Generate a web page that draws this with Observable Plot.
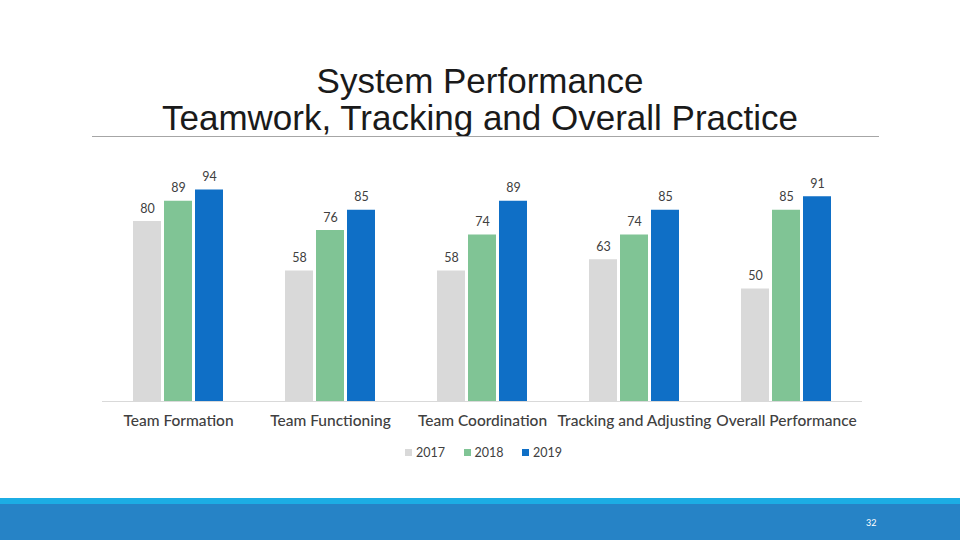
<!DOCTYPE html>
<html>
<head>
<meta charset="utf-8">
<script src="https://cdn.jsdelivr.net/npm/d3@7"></script>
<script src="https://cdn.jsdelivr.net/npm/@observablehq/plot@0.6"></script>
<style>
  html, body { margin: 0; padding: 0; background: #fff; }
  #page { position: relative; width: 960px; height: 540px; overflow: hidden; background: #fff; }
  #title { position: absolute; left: 0; top: 62px; width: 960px; text-align: center;
    font-family: "Liberation Sans", Arial, sans-serif; font-size: 35px; line-height: 37px; color: #1a1a1a; }
  #hr { position: absolute; left: 92px; top: 136px; width: 787px; height: 1px; background: #a6a6a6; }
  #chart { position: absolute; left: 0; top: 150px; }
  #legend { position: absolute; left: 405px; top: 445px; display: flex; gap: 0; font-family: Lato, "Noto Sans", sans-serif;
    font-size: 12.5px; color: #404040; }
  .li { display: flex; align-items: center; width: 58.5px; }
  .sw { width: 7px; height: 7px; margin-right: 4px; }
  #strip { position: absolute; left: 0; top: 498px; width: 960px; height: 6px; background: #1cade4; }
  #band { position: absolute; left: 0; top: 504px; width: 960px; height: 36px; background: #2683c6; }
  #pnum { position: absolute; left: 866px; top: 517px; font-family: Lato, sans-serif; font-size: 9px; color: #fff; }
</style>
</head>
<body>
<div id="page">
  <div id="title">System Performance<br>Teamwork, Tracking and Overall Practice</div>
  <div id="hr"></div>
  <div id="chart"></div>
  <div id="legend"></div>
  <div id="strip"></div>
  <div id="band"></div>
  <div id="pnum">32</div>
</div>
<script>
const categories = ["Team Formation", "Team Functioning", "Team Coordination", "Tracking and Adjusting", "Overall Performance"];
const years = ["2017", "2018", "2019"];
const v2017 = [80, 58, 58, 63, 50];
const v2018 = [89, 76, 74, 74, 85];
const v2019 = [94, 85, 89, 85, 91];
const colors = ["#d9d9d9", "#80c495", "#0f6fc6"];

const series = [v2017, v2018, v2019];
const data = [];
categories.forEach((c, i) => {
  years.forEach((y, j) => data.push({category: c, year: y, value: series[j][i]}));
});

const chart = Plot.plot({
  width: 960,
  height: 291,
  marginLeft: 102,
  marginRight: 98,
  marginTop: 26,
  marginBottom: 40,
  style: {fontFamily: "Lato, 'Noto Sans', sans-serif", background: "transparent"},
  fx: {domain: categories, padding: 0, axis: null, label: null},
  x: {domain: years, paddingInner: 0.1, paddingOuter: 0.96, axis: null},
  y: {domain: [0, 100], axis: null},
  color: {domain: years, range: colors},
  marks: [
    Plot.barY(data, {fx: "category", x: "year", y: "value", fill: "year"}),
    Plot.ruleY([0], {stroke: "#d9d9d9", strokeWidth: 1}),
    Plot.text(data, {fx: "category", x: "year", y: "value", text: d => String(d.value), dy: -13, fontSize: 12.5, fill: "#404040"}),
    Plot.axisFx({anchor: "bottom", label: null, tickSize: 0, tickPadding: 13, fontSize: 15.5, fill: "#404040", fontWeight: 500})
  ]
});
document.getElementById("chart").appendChild(chart);

const legend = document.getElementById("legend");
years.forEach((y, j) => {
  const item = document.createElement("div");
  item.className = "li";
  item.innerHTML = `<span class="sw" style="background:${colors[j]}"></span><span>${y}</span>`;
  legend.appendChild(item);
});
</script>
</body>
</html>
